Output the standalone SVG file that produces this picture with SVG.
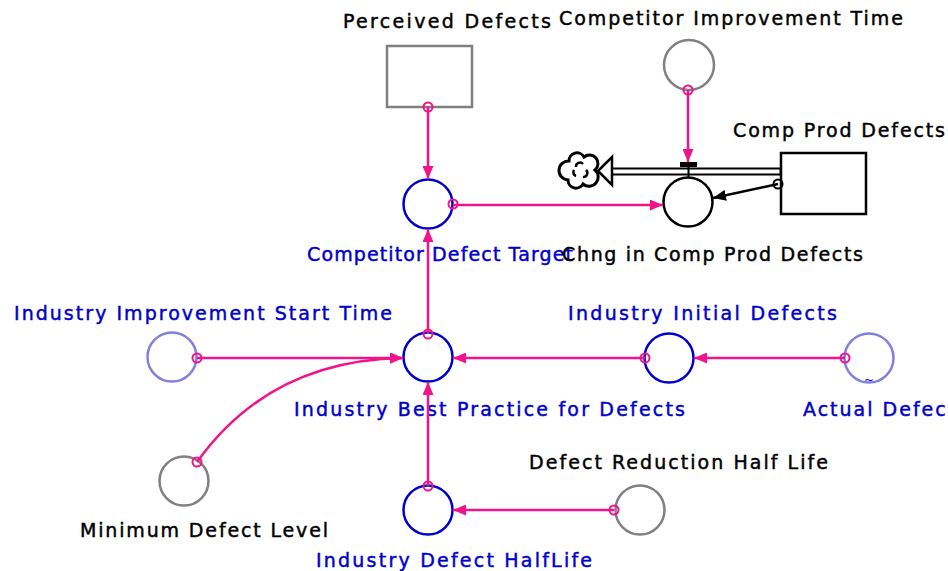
<svg xmlns="http://www.w3.org/2000/svg" width="948" height="571" viewBox="0 0 948 571">
<defs>
<style>
text{font-family:"DejaVu Sans",Verdana,sans-serif;font-size:19px;stroke-width:0.45px}
.k{fill:#000;stroke:#000}
.b{fill:#0000cc;stroke:#0000cc}
.aux{fill:#fff;stroke-width:2.5}
.blue{stroke:#0000cc}
.lb{stroke:#8080e0}
.gr{stroke:#808080}
.blk{stroke:#000}
.lk{fill:none;stroke:#f0148c;stroke-width:2.5}
.dot{fill:none;stroke:#f0148c;stroke-width:2}
</style>
<marker id="ap" viewBox="0 0 13 11" refX="13" refY="5.5" markerWidth="13" markerHeight="11" markerUnits="userSpaceOnUse" orient="auto">
<path d="M0,0 L13,5.5 L0,11 Z" fill="#f0148c"/>
</marker>
<marker id="ak" viewBox="0 0 13 11" refX="13" refY="5.5" markerWidth="13" markerHeight="11" markerUnits="userSpaceOnUse" orient="auto">
<path d="M0,0 L13,5.5 L0,11 Z" fill="#000"/>
</marker>
</defs>
<rect width="948" height="571" fill="#fff"/>

<g id="perceived-defects">
<rect x="387" y="46" width="85" height="61" fill="#fff" stroke="#808080" stroke-width="2.5"/>
<text class="k" x="343" y="28" textLength="208" lengthAdjust="spacing">Perceived Defects</text>
</g>
<g id="competitor-improvement-time">
<circle class="aux gr" cx="689" cy="65" r="25"/>
<text class="k" x="559" y="25" textLength="344" lengthAdjust="spacing">Competitor Improvement Time</text>
</g>
<g id="comp-prod-defects">
<rect x="781" y="153" width="85" height="61" fill="#fff" stroke="#000" stroke-width="2.5"/>
<text class="k" x="733" y="137" textLength="212" lengthAdjust="spacing">Comp Prod Defects</text>
</g>
<g id="competitor-defect-target">
<circle class="aux blue" cx="428" cy="204" r="24.5"/>
<text class="b" x="307" y="261" textLength="266" lengthAdjust="spacing">Competitor Defect Target</text>
</g>
<g id="chng-in-comp-prod-defects">
<circle class="aux blk" cx="688" cy="202" r="24.5"/>
<text class="k" x="562" y="261" textLength="301" lengthAdjust="spacing">Chng in Comp Prod Defects</text>
</g>
<g id="industry-improvement-start-time">
<circle class="aux lb" cx="172" cy="357" r="24.5"/>
<text class="b" x="14" y="320" textLength="378" lengthAdjust="spacing">Industry Improvement Start Time</text>
</g>
<g id="industry-best-practice">
<circle class="aux blue" cx="428" cy="357" r="24.5"/>
<text class="b" x="294" y="416" textLength="391" lengthAdjust="spacing">Industry Best Practice for Defects</text>
</g>
<g id="industry-initial-defects">
<circle class="aux blue" cx="669" cy="358" r="24.5"/>
<text class="b" x="568" y="320" textLength="269" lengthAdjust="spacing">Industry Initial Defects</text>
</g>
<g id="actual-defects">
<circle class="aux lb" cx="869" cy="358" r="24.5"/>
<text class="b" x="869" y="384" text-anchor="middle" style="font-size:12px;stroke-width:0">~</text>
<text class="b" x="803" y="416" style="letter-spacing:2px">Actual Defects</text>
</g>
<g id="minimum-defect-level">
<circle class="aux gr" cx="184" cy="481" r="24.5"/>
<text class="k" x="80" y="537" textLength="248" lengthAdjust="spacing">Minimum Defect Level</text>
</g>
<g id="industry-defect-halflife">
<circle class="aux blue" cx="428" cy="510" r="24.5"/>
<text class="b" x="316" y="567" textLength="276" lengthAdjust="spacing">Industry Defect HalfLife</text>
</g>
<g id="defect-reduction-half-life">
<circle class="aux gr" cx="640" cy="510" r="24.5"/>
<text class="k" x="529" y="469" textLength="299" lengthAdjust="spacing">Defect Reduction Half Life</text>
</g>

<g id="connectors">
<line x1="781" y1="171.5" x2="606" y2="171.5" stroke="#000" stroke-width="8"/>
<line x1="779.5" y1="171.5" x2="604" y2="171.5" stroke="#fff" stroke-width="4"/>
<path d="M598,171 L612,157 L612,185 Z" fill="#fff" stroke="#000" stroke-width="2.5"/>
<path d="M569,161 A8,8 0 0 1 584,157 A8,8 0 0 1 595,170 A8,8 0 0 1 583,184 A8,8 0 0 1 568,180 A8,8 0 0 1 569,161 Z" fill="#fff" stroke="#000" stroke-width="3"/>
<path d="M576,167 A4,4 0 0 1 583,164 M586,170 A4,4 0 0 1 583,177 M576,176 A4,4 0 0 1 574,170" fill="none" stroke="#000" stroke-width="2.5"/>
<rect x="680" y="162" width="17" height="5" fill="#000"/>
<line x1="688.5" y1="167" x2="688.5" y2="178" stroke="#000" stroke-width="2"/>

<line class="lk" x1="428" y1="107" x2="428" y2="179" marker-end="url(#ap)"/>
<circle class="dot" cx="428" cy="107" r="4.5"/>
<line class="lk" x1="453" y1="205" x2="663" y2="205" marker-end="url(#ap)"/>
<circle class="dot" cx="453" cy="204" r="4.5"/>
<line class="lk" x1="688" y1="90" x2="688" y2="162" marker-end="url(#ap)"/>
<circle class="dot" cx="688" cy="90" r="4.5"/>
<line x1="778" y1="184" x2="713" y2="198" stroke="#000" stroke-width="2.5" marker-end="url(#ak)"/>
<circle cx="778" cy="184" r="4.5" fill="none" stroke="#000" stroke-width="2"/>
<line class="lk" x1="428" y1="334" x2="428" y2="229" marker-end="url(#ap)"/>
<circle class="dot" cx="428" cy="334" r="4.5"/>
<line class="lk" x1="197" y1="358" x2="403" y2="358" marker-end="url(#ap)"/>
<circle class="dot" cx="197" cy="358" r="4.5"/>
<path class="lk" d="M197,462 Q270,360 403,358" marker-end="url(#ap)"/>
<circle class="dot" cx="197" cy="462" r="4.5"/>
<line class="lk" x1="645" y1="358" x2="453" y2="358" marker-end="url(#ap)"/>
<circle class="dot" cx="645" cy="358" r="4.5"/>
<line class="lk" x1="845" y1="358" x2="694" y2="358" marker-end="url(#ap)"/>
<circle class="dot" cx="845" cy="358" r="4.5"/>
<line class="lk" x1="428" y1="486" x2="428" y2="382" marker-end="url(#ap)"/>
<circle class="dot" cx="428" cy="486" r="4.5"/>
<line class="lk" x1="614" y1="510" x2="453" y2="510" marker-end="url(#ap)"/>
<circle class="dot" cx="614" cy="510" r="4.5"/>
</g>
</svg>
